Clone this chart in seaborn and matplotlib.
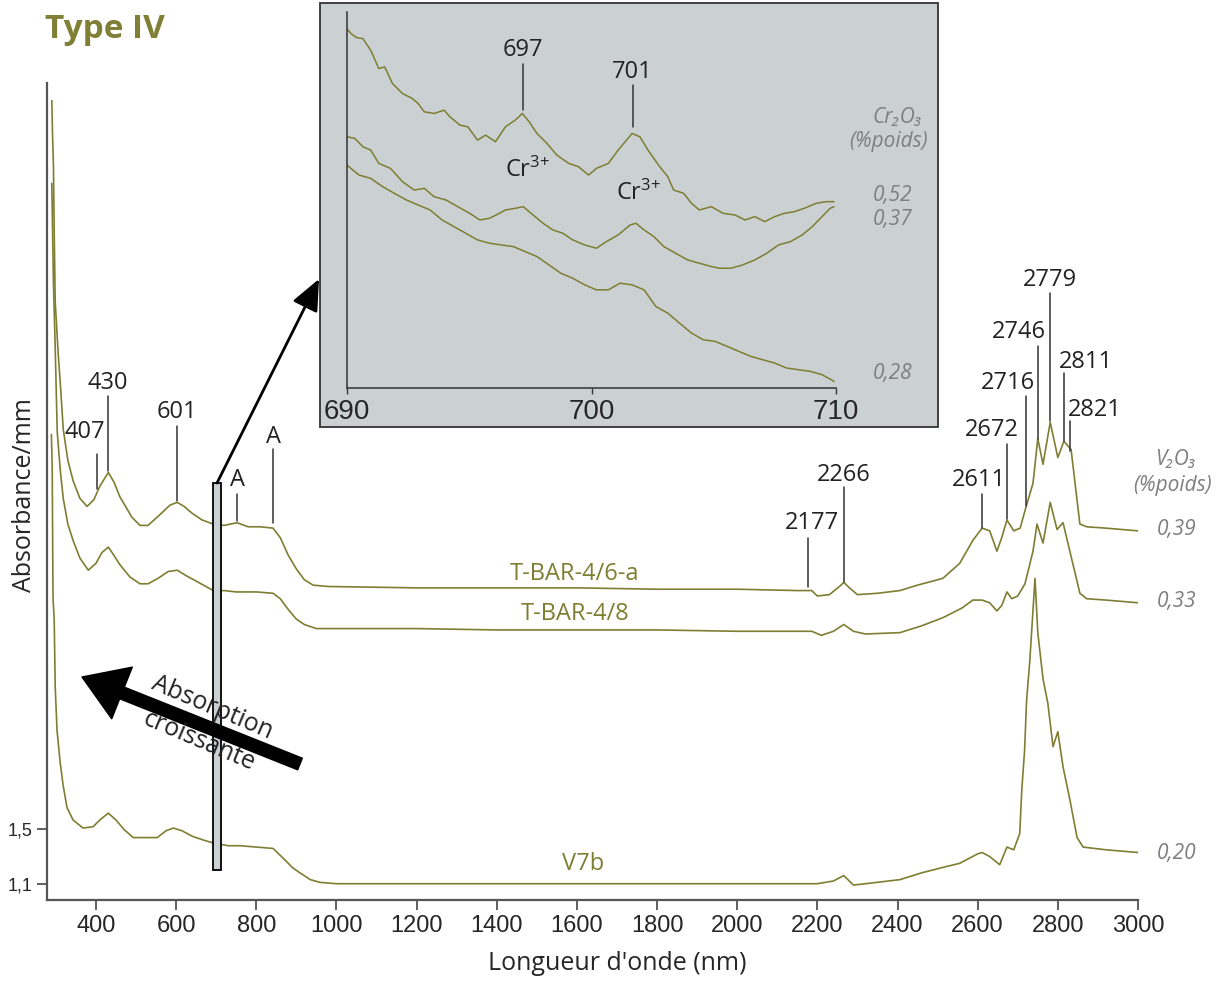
import matplotlib
matplotlib.use('Agg')
import matplotlib.pyplot as plt
from matplotlib.patches import Rectangle, FancyArrowPatch
import pandas as pd
import seaborn as sns

# --- main spectra (nm, absorbance/mm) ---
nm_tbar46 = [290, 292, 294, 296, 298.5, 305, 312, 318.5, 330, 343, 360, 378, 395, 410, 431, 445, 460,
             490, 510, 530, 560, 585, 603, 620, 640, 665, 693, 720, 752, 780, 810, 842, 860, 880, 900,
             920, 942, 980, 1200, 1400, 1600, 1800, 2000, 2150, 2186, 2200, 2230, 2255, 2266, 2280, 2300,
             2350, 2406, 2450, 2513, 2555, 2588, 2611, 2630, 2648, 2660, 2673, 2690, 2706, 2720, 2738,
             2750, 2763, 2781, 2800, 2815, 2833, 2855, 2872, 2920, 2960, 3000]
abs_tbar46 = [6.87, 6.60, 6.40, 5.90, 5.39, 5.05, 4.75, 4.45, 4.22, 4.07, 3.94, 3.88, 3.93, 4.03, 4.13,
              4.06, 3.95, 3.80, 3.74, 3.74, 3.82, 3.89, 3.91, 3.88, 3.83, 3.78, 3.75, 3.74, 3.76, 3.73,
              3.73, 3.72, 3.65, 3.52, 3.42, 3.34, 3.30, 3.29, 3.28, 3.28, 3.28, 3.27, 3.27, 3.26, 3.26,
              3.22, 3.23, 3.29, 3.32, 3.28, 3.23, 3.24, 3.26, 3.30, 3.35, 3.46, 3.63, 3.72, 3.70, 3.55,
              3.65, 3.78, 3.70, 3.72, 3.87, 4.05, 4.38, 4.19, 4.50, 4.24, 4.36, 4.30, 3.75, 3.73, 3.72,
              3.71, 3.70]

nm_tbar48 = [290, 292, 294, 298.5, 303.5, 311, 318.5, 330, 343, 360, 381, 400, 415, 431, 445, 460, 485,
             510, 530, 555, 580, 603, 625, 650, 693, 720, 750, 800, 842, 860, 880, 900, 920, 950, 984,
             1200, 1400, 1600, 1800, 2000, 2186, 2210, 2240, 2266, 2290, 2320, 2406, 2460, 2513, 2560,
             2588, 2611, 2630, 2648, 2660, 2673, 2685, 2700, 2718, 2738, 2748, 2763, 2781, 2798, 2813,
             2830, 2855, 2872, 2920, 2960, 3000]
abs_tbar48 = [6.26, 5.90, 5.54, 5.05, 4.43, 4.15, 3.94, 3.75, 3.63, 3.50, 3.41, 3.46, 3.54, 3.58, 3.52,
              3.45, 3.36, 3.31, 3.31, 3.35, 3.40, 3.41, 3.37, 3.33, 3.26, 3.26, 3.25, 3.25, 3.24, 3.20,
              3.12, 3.05, 3.01, 2.98, 2.98, 2.98, 2.97, 2.97, 2.97, 2.96, 2.96, 2.93, 2.96, 3.01, 2.96,
              2.94, 2.95, 3.00, 3.06, 3.13, 3.19, 3.19, 3.17, 3.11, 3.15, 3.25, 3.20, 3.22, 3.31, 3.55,
              3.75, 3.61, 3.91, 3.71, 3.76, 3.55, 3.24, 3.20, 3.19, 3.18, 3.17]

nm_v7b = [289, 291, 293, 296, 298.5, 303, 311, 318.5, 328, 343, 368, 393, 410, 431, 450, 470, 493, 520,
          553, 575, 593, 615, 640, 670, 693, 730, 760, 800, 842, 870, 890, 909, 935, 959, 1000, 1159,
          1400, 1600, 1800, 2000, 2200, 2240, 2266, 2290, 2320, 2406, 2460, 2513, 2555, 2600, 2611,
          2630, 2655, 2673, 2690, 2705, 2710, 2717, 2722, 2730, 2743, 2750, 2763, 2775, 2788, 2800,
          2813, 2830, 2848, 2863, 2920, 2960, 3000]
abs_v7b = [4.41, 4.16, 3.21, 3.04, 2.55, 2.23, 1.99, 1.82, 1.66, 1.57, 1.51, 1.52, 1.57, 1.62, 1.57,
           1.50, 1.44, 1.44, 1.44, 1.49, 1.51, 1.49, 1.45, 1.42, 1.40, 1.38, 1.38, 1.37, 1.36, 1.28,
           1.22, 1.18, 1.13, 1.11, 1.10, 1.10, 1.10, 1.10, 1.10, 1.10, 1.10, 1.12, 1.16, 1.09, 1.10,
           1.13, 1.18, 1.22, 1.25, 1.32, 1.33, 1.30, 1.24, 1.37, 1.35, 1.47, 1.79, 2.08, 2.45, 2.74,
           3.35, 2.95, 2.61, 2.43, 2.11, 2.22, 1.96, 1.72, 1.44, 1.37, 1.35, 1.34, 1.33]

# --- inset 690-710 nm (relative absorbance) ---
nm_cr052 = [690.00, 690.16, 690.40, 690.65, 690.97, 691.30, 691.54, 691.86, 692.27, 692.67, 692.91,
            693.16, 693.56, 693.97, 694.21, 694.62, 694.94, 695.34, 695.67, 696.07, 696.48, 696.88,
            697.17, 697.45, 697.77, 698.18, 698.58, 699.07, 699.47, 699.88, 700.20, 700.69, 701.09,
            701.66, 701.98, 702.31, 702.79, 703.12, 703.36, 703.77, 704.09, 704.41, 704.90, 705.38,
            705.87, 706.28, 706.68, 707.09, 707.49, 707.89, 708.30, 708.70, 709.19, 709.60, 709.92]
abs_cr052 = [1.080, 1.065, 1.053, 1.050, 1.015, 0.960, 0.965, 0.915, 0.885, 0.870, 0.855, 0.830, 0.825,
             0.835, 0.815, 0.790, 0.785, 0.745, 0.760, 0.740, 0.785, 0.805, 0.825, 0.800, 0.765, 0.735,
             0.700, 0.675, 0.665, 0.640, 0.660, 0.675, 0.715, 0.765, 0.755, 0.715, 0.665, 0.635, 0.595,
             0.585, 0.555, 0.535, 0.545, 0.525, 0.520, 0.505, 0.515, 0.500, 0.515, 0.525, 0.530, 0.540,
             0.555, 0.560, 0.560]

nm_cr037 = [690.00, 690.32, 690.65, 690.97, 691.30, 691.78, 692.27, 692.75, 693.16, 693.56, 694.05,
            694.53, 695.02, 695.43, 695.83, 696.23, 696.48, 696.88, 697.21, 697.61, 698.02, 698.42,
            698.83, 699.23, 699.72, 700.20, 700.61, 701.09, 701.58, 701.82, 702.15, 702.55, 702.96,
            703.44, 703.93, 704.41, 704.90, 705.22, 705.71, 706.19, 706.68, 707.17, 707.65, 708.14,
            708.62, 709.03, 709.43, 709.76, 709.92]
abs_cr037 = [0.755, 0.750, 0.725, 0.715, 0.675, 0.660, 0.620, 0.595, 0.600, 0.575, 0.565, 0.545, 0.525,
             0.505, 0.510, 0.525, 0.535, 0.540, 0.545, 0.520, 0.495, 0.475, 0.465, 0.445, 0.430, 0.420,
             0.440, 0.460, 0.490, 0.495, 0.475, 0.455, 0.425, 0.405, 0.385, 0.375, 0.365, 0.360, 0.360,
             0.370, 0.385, 0.405, 0.430, 0.440, 0.460, 0.485, 0.515, 0.540, 0.545]

nm_cr028 = [690.00, 690.24, 690.49, 690.97, 691.46, 691.94, 692.43, 692.91, 693.40, 693.89, 694.37,
            694.86, 695.34, 695.83, 696.31, 696.80, 697.29, 697.77, 698.26, 698.74, 699.23, 699.72,
            700.20, 700.69, 701.17, 701.66, 702.15, 702.63, 703.12, 703.60, 704.09, 704.57, 705.06,
            705.55, 706.03, 706.52, 707.00, 707.49, 707.98, 708.46, 708.95, 709.43, 709.92]
abs_cr028 = [0.670, 0.655, 0.640, 0.630, 0.605, 0.585, 0.565, 0.550, 0.535, 0.505, 0.485, 0.465, 0.445,
             0.435, 0.430, 0.425, 0.410, 0.395, 0.370, 0.345, 0.330, 0.310, 0.295, 0.295, 0.315, 0.310,
             0.295, 0.245, 0.225, 0.195, 0.165, 0.145, 0.140, 0.125, 0.110, 0.095, 0.085, 0.075, 0.060,
             0.055, 0.050, 0.040, 0.020]

x_ticks = [400, 600, 800, 1000, 1200, 1400, 1600, 1800, 2000, 2200, 2400, 2600, 2800, 3000]
y_ticks = [1.1, 1.5]
y_ticklabels = ['1,1', '1,5']
inset_ticks = [690, 700, 710]

sns.set_style('ticks')
plt.rcParams['font.family'] = ['Open Sans', 'DejaVu Sans']
plt.rcParams['mathtext.fontset'] = 'custom'
plt.rcParams['mathtext.rm'] = 'Open Sans'
plt.rcParams['mathtext.it'] = 'Open Sans:italic'

W, H = 1221, 981
OLIVE = '#7e7e32'
GREY_TXT = '#7f7f7f'
BOX = '#cbd0d3'


def fx(x):
    return x / W


def fy(y):
    return 1 - y / H


fig = plt.figure(figsize=(12.21, 9.81), dpi=100)
ax = fig.add_axes([fx(47), fy(900), fx(1138) - fx(47), fy(83) - fy(900)])

for xs, ys in [(nm_tbar46, abs_tbar46), (nm_tbar48, abs_tbar48), (nm_v7b, abs_v7b)]:
    df = pd.DataFrame({'nm': xs, 'abs': ys})
    sns.lineplot(data=df, x='nm', y='abs', ax=ax, color=OLIVE, lw=1.2, estimator=None)

ax.set_xlim(278, 3000)
ax.set_ylim(0.98, 7.0)
ax.set_xticks(x_ticks)
ax.set_xticklabels([str(t) for t in x_ticks], fontsize=17, family='Liberation Sans')
ax.set_yticks(y_ticks)
ax.set_yticklabels(y_ticklabels, fontsize=13, family='Liberation Sans')
ax.tick_params(axis='both', direction='out', length=7, width=1.2, color='#444444')
for s in ['top', 'right']:
    ax.spines[s].set_visible(False)
for s in ['left', 'bottom']:
    ax.spines[s].set_color('#555555')
    ax.spines[s].set_linewidth(1.6)
ax.set_xlabel('')
ax.set_ylabel('')

fig.text(fx(25), fy(495), 'Absorbance/mm', rotation=90, ha='center', va='center', fontsize=18)
fig.text(fx(617), fy(963), "Longueur d'onde (nm)", ha='center', va='center', fontsize=18)
fig.text(fx(45), fy(30), 'Type IV', ha='left', va='center', fontsize=24, fontweight='bold', color='#7f7f35')

# peak markers: label, x (nm), line bottom, line top, text px position
peaks = [('407', 403, 4.01, 4.27, 85, 432), ('430', 431, 4.14, 4.69, 108, 383),
         ('601', 603, 3.92, 4.47, 177, 412), ('A', 752, 3.77, 3.97, 237, 480),
         ('A', 842, 3.76, 4.30, 273, 437), ('2177', 2177, 3.29, 3.65, 812, 523),
         ('2266', 2266, 3.32, 4.02, 844, 475), ('2611', 2611, 3.72, 3.97, 979, 480),
         ('2672', 2673, 3.79, 4.34, 992, 430), ('2716', 2720, 3.88, 4.69, 1008, 383),
         ('2746', 2750, 4.38, 5.06, 1019, 332), ('2779', 2781, 4.51, 5.45, 1050, 280),
         ('2811', 2815, 4.36, 4.86, 1086, 362), ('2821', 2831, 4.29, 4.51, 1095, 410)]
for lab, xp, y0, y1, tx, ty in peaks:
    ax.plot([xp, xp], [y0, y1], color='#333333', lw=1.1)
    fig.text(fx(tx), fy(ty), lab, ha='center', va='center', fontsize=17, color='#222222')

for lab, tx, ty in [('T-BAR-4/6-a', 575, 574), ('T-BAR-4/8', 575, 614), ('V7b', 583, 864)]:
    fig.text(fx(tx), fy(ty), lab, ha='center', va='center', fontsize=17, color=OLIVE)

for lab, tx, ty in [('V₂O₃', 1176, 460), ('(%poids)', 1172, 486), ('0,39', 1177, 530),
                    ('0,33', 1177, 601), ('0,20', 1177, 853)]:
    fig.text(fx(tx), fy(ty), lab, ha='center', va='center', fontsize=15, style='italic', color=GREY_TXT)

# zoom window marker and pointer
fig.add_artist(Rectangle((fx(213), fy(870)), fx(221) - fx(213), fy(483) - fy(870),
                         transform=fig.transFigure, facecolor=BOX, edgecolor='black', lw=1.3, zorder=5))
fig.add_artist(FancyArrowPatch((fx(217), fy(483)), (fx(319), fy(279)), transform=fig.transFigure,
                               arrowstyle='-|>,head_length=1.6,head_width=0.7', mutation_scale=12,
                               color='black', lw=2, zorder=6, shrinkA=0, shrinkB=0))

# big arrow
fig.add_artist(FancyArrowPatch((fx(300), fy(764)), (fx(82), fy(677)), transform=fig.transFigure,
                               arrowstyle='simple,head_length=3.1,head_width=4.0,tail_width=0.9',
                               mutation_scale=10, color='black', zorder=6, shrinkA=0, shrinkB=0))
fig.text(fx(212), fy(708), 'Absorption', rotation=-23, ha='center', va='center', fontsize=18,
         color='#222222', rotation_mode='anchor', zorder=7)
fig.text(fx(199), fy(741), 'croissante', rotation=-23, ha='center', va='center', fontsize=18,
         color='#222222', rotation_mode='anchor', zorder=7)

# inset box
fig.add_artist(Rectangle((fx(320), fy(427)), fx(938) - fx(320), fy(3) - fy(427),
                         transform=fig.transFigure, facecolor=BOX, edgecolor='#333333', lw=1.3, zorder=3))
axi = fig.add_axes([fx(347), fy(388), fx(836) - fx(347), fy(12) - fy(388)], zorder=4)
axi.patch.set_alpha(0)
for xs, ys in [(nm_cr052, abs_cr052), (nm_cr037, abs_cr037), (nm_cr028, abs_cr028)]:
    df = pd.DataFrame({'nm': xs, 'abs': ys})
    sns.lineplot(data=df, x='nm', y='abs', ax=axi, color=OLIVE, lw=1.1, estimator=None)
axi.set_xlim(690, 710)
axi.set_ylim(0, 1.13)
axi.set_xticks(inset_ticks)
axi.set_xticklabels([str(t) for t in inset_ticks], fontsize=20, family='Liberation Sans')
axi.set_yticks([])
axi.tick_params(axis='x', direction='out', length=4, width=1, color='#333333', pad=4)
for s in ['top', 'right']:
    axi.spines[s].set_visible(False)
for s in ['left', 'bottom']:
    axi.spines[s].set_color('#333333')
    axi.spines[s].set_linewidth(1.1)
axi.set_xlabel('')
axi.set_ylabel('')
axi.plot([697.2, 697.2], [0.835, 0.975], color='#333333', lw=1.1)
axi.plot([701.7, 701.7], [0.785, 0.910], color='#333333', lw=1.1)
fig.text(fx(523), fy(50), '697', ha='center', va='center', fontsize=17, color='#222222', zorder=6)
fig.text(fx(632), fy(72), '701', ha='center', va='center', fontsize=17, color='#222222', zorder=6)
fig.text(fx(527), fy(170), r'Cr$^{3{+}}$', ha='center', va='center', fontsize=17, color='#222222', zorder=6)
fig.text(fx(638), fy(193), r'Cr$^{3{+}}$', ha='center', va='center', fontsize=17, color='#222222', zorder=6)
for lab, tx, ty in [('Cr₂O₃', 897, 117), ('(%poids)', 889, 142), ('0,52', 893, 195),
                    ('0,37', 893, 219), ('0,28', 893, 374)]:
    fig.text(fx(tx), fy(ty), lab, ha='center', va='center', fontsize=15, style='italic',
             color=GREY_TXT, zorder=6)

fig.savefig('out.png', dpi=100)
